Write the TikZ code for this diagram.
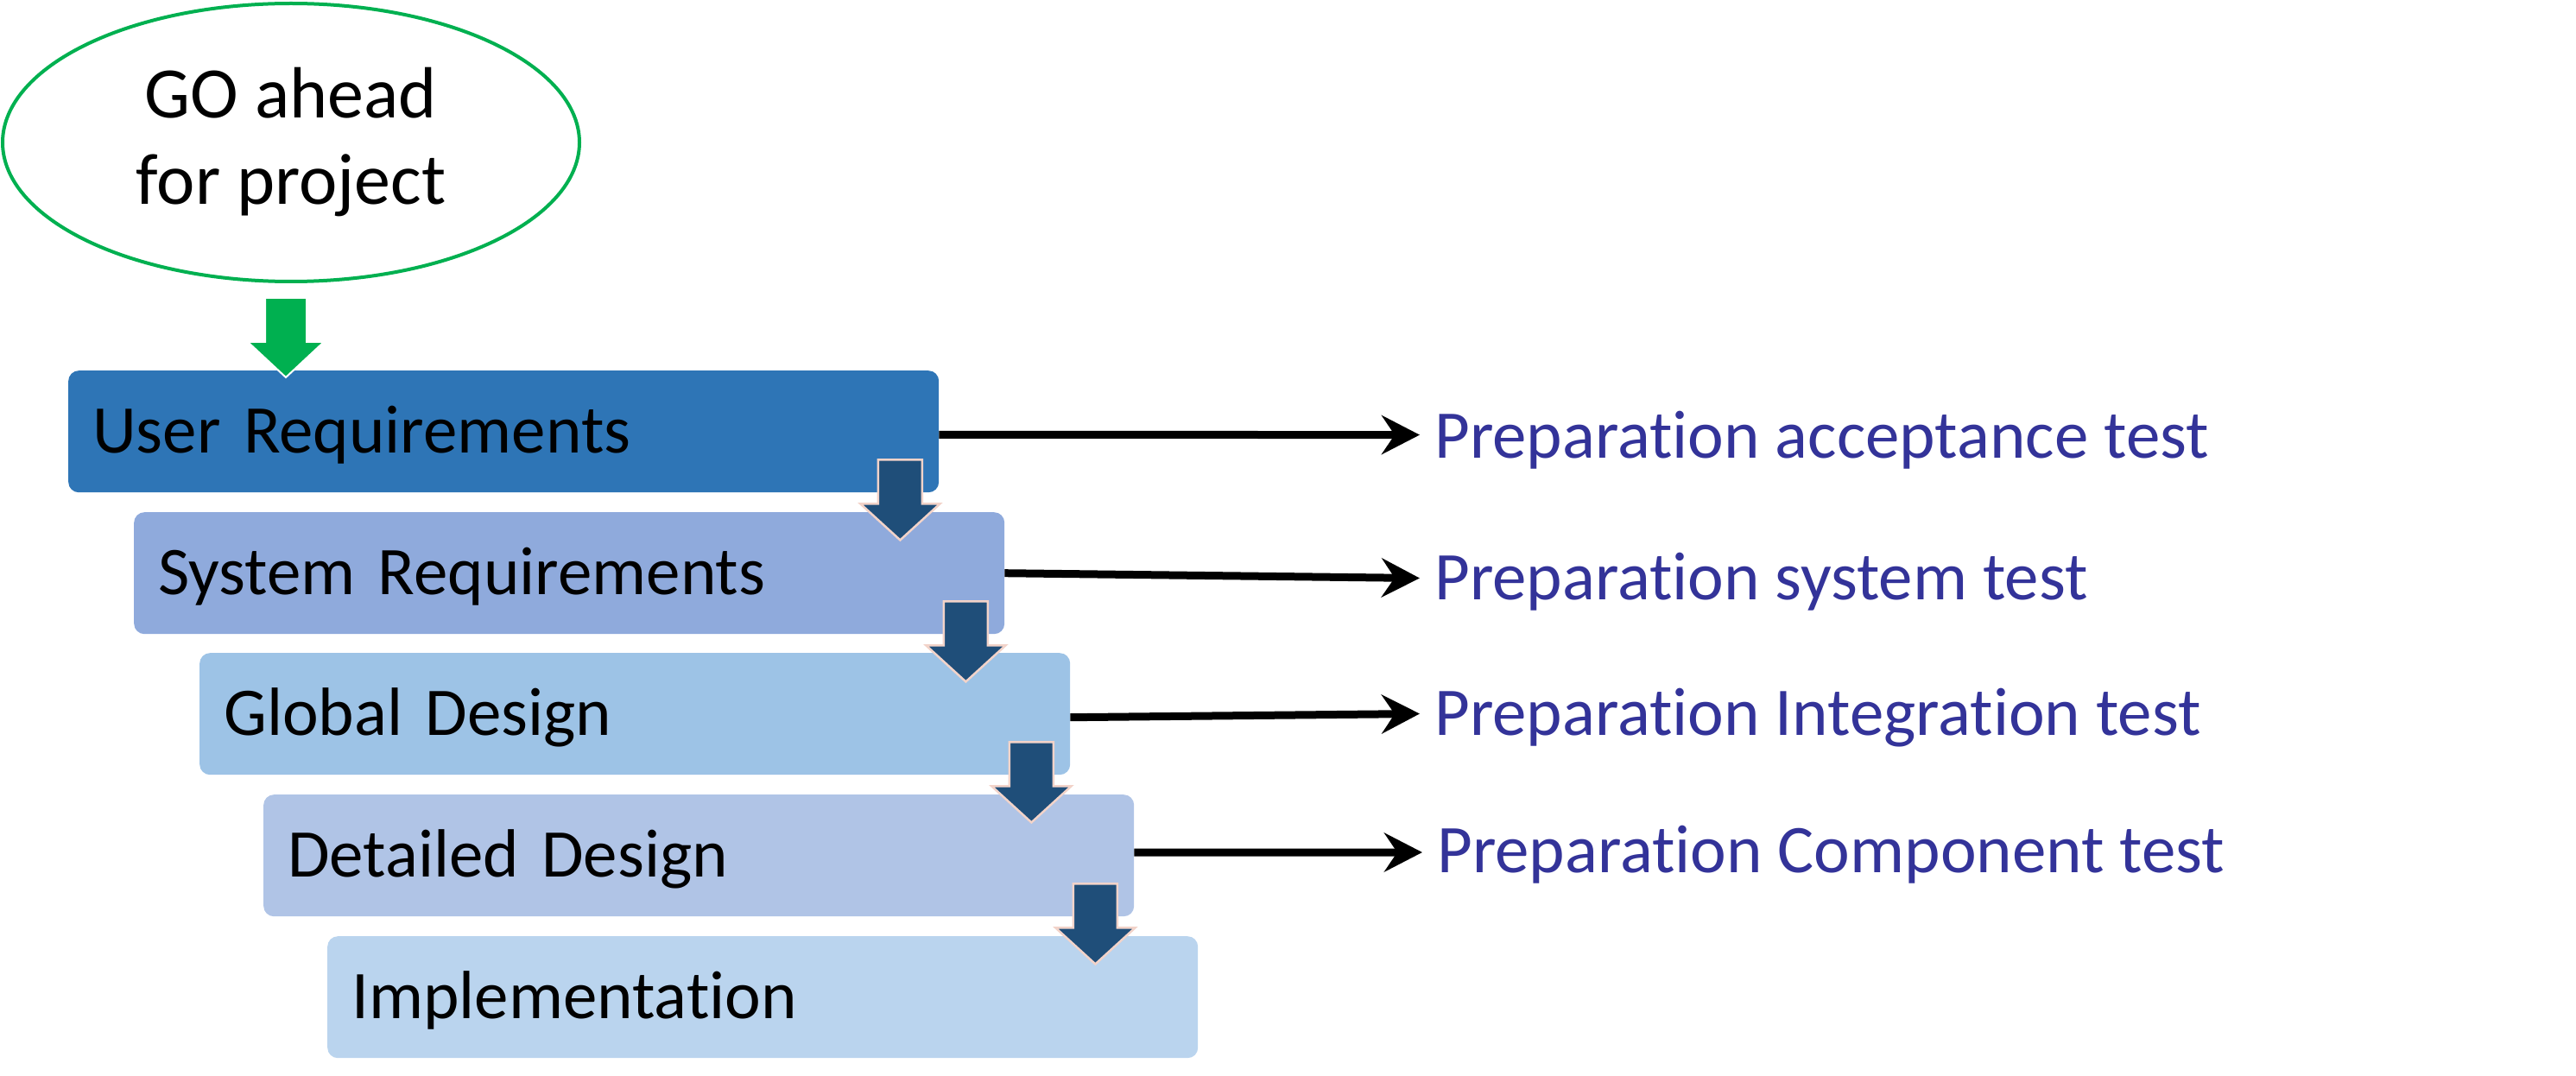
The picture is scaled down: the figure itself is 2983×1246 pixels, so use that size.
\documentclass[tikz,border=0pt]{standalone}
\usepackage{fontspec}
\setmainfont{Carlito}[Ligatures=NoCommon]
\newfontfamily\stagefont{Carlito}[Ligatures=NoCommon, WordSpace=0.7]
\usetikzlibrary{arrows.meta,shapes.geometric,calc}
\definecolor{gogreen}{HTML}{00B050}
\definecolor{stageA}{HTML}{2E75B6}
\definecolor{stageB}{HTML}{8FAADC}
\definecolor{stageC}{HTML}{9DC3E6}
\definecolor{stageD}{HTML}{B0C4E6}
\definecolor{stageE}{HTML}{BAD4EE}
\definecolor{darrow}{HTML}{1F4E79}
\definecolor{darrowline}{HTML}{F2D3C9}
\definecolor{prepblue}{HTML}{333399}
\begin{document}
\begin{tikzpicture}[x=1pt,y=-1pt,
  goell/.style={ellipse, draw=gogreen, line width=4pt, fill=white,
    minimum width=668pt, minimum height=322pt, inner sep=0pt,
    align=center, font=\fontsize{84}{100}\selectfont},
  stage/.style={rounded corners=12pt, minimum width=1008pt, minimum height=141pt,
    anchor=north west, inner xsep=28pt, inner ysep=0pt, text width=952pt,
    align=left, font=\stagefont\fontsize{79}{95}\selectfont, text height=50pt, text depth=0pt},
  prep/.style={anchor=west, inner xsep=17pt, inner ysep=0pt, text height=50pt,
    text depth=0pt, text=prepblue, font=\fontsize{79}{95}\selectfont},
  conn/.style={line width=9pt, -{Stealth[length=44pt,width=45pt,inset=15pt]}},
  downarrow/.style={fill=darrow, draw=darrowline, line width=2.5pt},
  goarrow/.style={fill=gogreen, draw=white, line width=2pt}]
\useasboundingbox (0,0) rectangle (2983,1246);

\node[goell] (go) at (337,165) {GO ahead\\for project};

\node[stage, fill=stageA] (b1) at (79,429) {User Requirements};
\node[stage, fill=stageB] (b2) at (155,593) {System Requirements};
\node[stage, fill=stageC] (b3) at (231,756) {Global Design};
\node[stage, fill=stageD] (b4) at (305,920) {Detailed Design};
\node[stage, fill=stageE] (b5) at (379,1084) {Implementation};

\foreach \n in {b1,b2,b3,b4} {
  \filldraw[downarrow] ($(\n.south east)+(-45,0)$) ++(-25.5,-38) -- ++(51,0)
    -- ++(0,51) -- ++(20.5,0) -- ++(-46,42) -- ++(-46,-42) -- ++(20.5,0) -- cycle;
}

\filldraw[goarrow] (307,345) -- (355,345) -- (355,396) -- (375,396) -- (331,437)
  -- (287,396) -- (307,396) -- cycle;

\node[prep] (l1) at (1644,505) {Preparation acceptance test};
\node[prep] (l2) at (1644,669.5) {Preparation system test};
\node[prep] (l3) at (1644,826.5) {Preparation Integration test};
\node[prep] (l4) at (1647,985) {Preparation Component test};

\draw[conn] ([yshift=-3.6pt]b1.east) -- ([yshift=1.4pt]l1.west);
\draw[conn] (b2.east) -- (l2.west);
\draw[conn] ([yshift=-4pt]b3.east) -- (l3.west);
\draw[conn] ([yshift=3.5pt]b4.east) -- ([yshift=-2pt]l4.west);
\end{tikzpicture}
\end{document}
